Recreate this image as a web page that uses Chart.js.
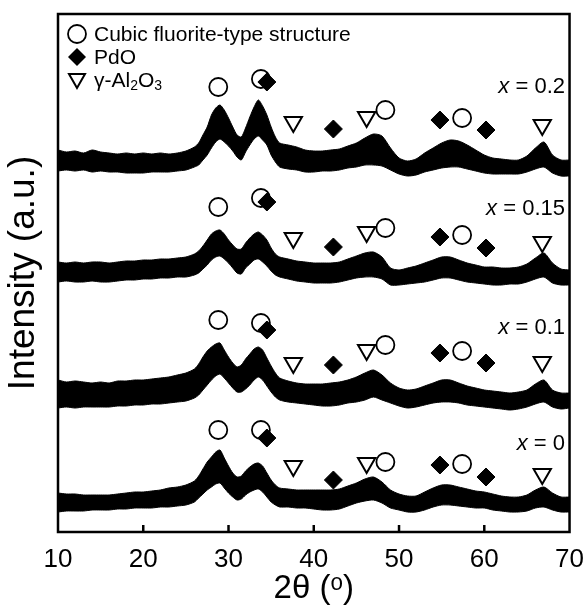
<!DOCTYPE html>
<html>
<head>
<meta charset="utf-8">
<script src="https://cdn.jsdelivr.net/npm/chart.js@4.4.1/dist/chart.umd.min.js"></script>
<style>
  html, body { margin: 0; padding: 0; background: #fff; }
  #wrap { width: 588px; height: 609px; }
</style>
</head>
<body>
<div id="wrap"><canvas id="xrdChart" width="588" height="609"></canvas></div>
<script>
// 2-theta grid (deg), finer around the main fluorite peaks
const twoTheta = [10,11,12,13,14,15,16,17,18,19,20,21,22,23,24,25,26,
  26.5,27,27.5,28,28.5,29,29.5,30,30.5,31,31.5,32,32.5,33,33.5,34,34.5,35,35.5,36,
  37,38,39,40,41,42,43,44,45,46,47,48,49,50,51,52,53,54,55,56,57,58,59,60,61,62,63,64,65,66,67,68,69,70];

// noisy traces read as upper / lower edge of the noise band (a.u., stacked offsets included)
const x02Top = [382,380,381,379,382,380,379,378,379,378,379,378,379,378,379,381,385,
  389,397,405,417,424,427,422,414,405,397,395,404,415,425,432,426,417,405,395,389,
  387,385,382,381,381,382,383,386,389,394,398,396,384,374,371,373,379,384,389,392,391,387,382,377,374,373,372,372,376,384,390,377,372,372];
const x02Low = [361,362,361,362,360,361,360,360,359,359,359,360,360,360,361,362,365,
  367,372,377,384,390,393,390,386,381,375,372,380,387,393,396,392,387,377,370,365,
  363,362,360,360,361,361,362,364,365,367,367,366,362,358,356,357,360,362,364,365,365,363,361,359,358,358,358,358,360,363,365,359,356,356];

const x015Top = [270,269,270,269,270,270,269,270,271,271,272,272,273,273,274,275,278,
  281,286,292,298,301,302,298,292,287,283,283,289,294,298,300,297,292,284,278,275,
  273,271,270,269,269,269,270,273,276,279,280,275,264,262,264,266,269,272,275,275,272,269,267,265,265,264,264,265,268,274,279,269,263,262];
const x015Low = [250,251,250,250,251,250,250,251,252,252,253,253,254,254,255,255,257,
  259,263,267,272,275,276,273,269,264,259,258,264,268,272,273,270,266,261,257,255,
  253,251,250,249,249,249,250,252,254,255,255,253,247,247,248,249,250,252,254,254,252,250,249,248,247,247,248,248,250,253,255,249,247,247];

const x01Top = [152,150,151,150,149,150,149,151,151,152,152,153,154,155,157,159,163,
  168,175,181,185,188,189,182,175,169,165,167,173,178,183,185,182,174,166,159,154,
  151,149,148,148,148,149,150,152,155,159,162,157,149,144,142,143,146,149,152,152,149,146,144,142,141,140,139,140,142,148,152,142,139,139];
const x01Low = [124,125,124,125,125,125,125,126,126,127,127,128,128,129,130,131,134,
  137,142,147,152,156,158,154,149,144,140,140,143,147,152,155,152,146,140,135,132,
  130,129,128,127,126,126,127,129,130,132,135,132,129,126,124,125,127,129,130,130,129,127,126,125,124,123,122,123,125,128,130,125,123,124];

const x0Top = [39,38,38,37,37,37,37,38,39,40,40,41,42,44,45,47,51,
  56,63,70,75,80,82,74,66,59,55,56,61,65,68,69,66,59,52,47,44,
  43,42,42,42,42,42,43,46,49,53,55,50,42,38,36,36,40,44,47,47,45,43,41,40,38,36,35,35,37,42,45,39,35,35];
const x0Low = [20,21,21,21,22,22,22,23,23,24,24,24,25,25,26,27,30,
  34,38,42,45,48,49,44,39,35,32,33,37,40,42,43,40,35,30,27,25,
  25,24,24,23,22,22,23,26,29,31,32,29,24,22,20,20,22,25,27,27,26,25,24,24,22,21,20,20,21,24,25,22,20,20];

// phase markers: 2-theta positions and marker heights per trace (x = 0.2, 0.15, 0.1, 0)
const fluoriteTheta = [28.8, 33.8, 48.4, 57.4];
const pdoTheta = [34.5, 42.3, 54.8, 60.2];
const aluminaTheta = [37.6, 46.2, 66.8];
const fluoriteY = [[445,453,422,414],[325,334,304,297],[212,209,187,181],[102,102,70,68]];
const pdoY = [[450,403,412,402],[330,285,295,284],[202,167,179,169],[94,52,67,55]];
const aluminaY = [[410,415,407],[294,300,290],[169,182,170],[66,69,58]];

const seriesNames = ['0.2', '0.15', '0.1', '0'];
const seriesLabelY = [445, 323, 204, 88];

const FONT = "'Liberation Sans', Arial, sans-serif";

function pts(xs, ys) { return xs.map((t, i) => ({ x: t, y: ys[i] })); }

const bands = [[x02Low, x02Top], [x015Low, x015Top], [x01Low, x01Top], [x0Low, x0Top]];
const datasets = [];
bands.forEach(([lo, hi]) => {
    datasets.push({
        data: pts(twoTheta, lo), borderColor: '#000', borderWidth: 1,
        pointRadius: 0, tension: 0.25, fill: false, order: 10
    });
    datasets.push({
        data: pts(twoTheta, hi), borderColor: '#000', borderWidth: 1,
        pointRadius: 0, tension: 0.25, fill: '-1', backgroundColor: '#000', order: 10
    });
});
fluoriteY.forEach(ys => datasets.push({
    data: pts(fluoriteTheta, ys), showLine: false, pointStyle: 'circle', pointRadius: 9,
    pointBackgroundColor: '#fff', pointBorderColor: '#000', pointBorderWidth: 1.8, order: 3
}));
pdoY.forEach(ys => datasets.push({
    data: pts(pdoTheta, ys), showLine: false, pointStyle: 'rectRot', pointRadius: 9,
    pointBackgroundColor: '#000', pointBorderColor: '#000', pointBorderWidth: 1, order: 2
}));
aluminaY.forEach(ys => datasets.push({
    data: pts(aluminaTheta, ys), showLine: false, pointStyle: 'triangle', rotation: 180, pointRadius: 10,
    pointBackgroundColor: '#fff', pointBorderColor: '#000', pointBorderWidth: 2, order: 1
}));

// frame, inward ticks, legend box text, series labels
const decor = {
    id: 'decor',
    afterDraw(chart) {
        const { ctx, chartArea: a, scales: { x, y } } = chart;
        ctx.save();
        ctx.strokeStyle = '#000';
        ctx.lineWidth = 2.5;
        ctx.strokeRect(a.left, a.top, a.right - a.left, a.bottom - a.top);
        x.ticks.forEach(t => {
            if (t.value <= x.min || t.value >= x.max) return;
            const px = x.getPixelForValue(t.value);
            ctx.beginPath();
            ctx.moveTo(px, a.bottom);
            ctx.lineTo(px, a.bottom - 7);
            ctx.stroke();
        });

        // series labels
        ctx.fillStyle = '#000';
        ctx.textBaseline = 'middle';
        seriesNames.forEach((n, i) => {
            const py = y.getPixelForValue(seriesLabelY[i]);
            ctx.font = 'italic 22px ' + FONT;
            const wx = ctx.measureText('x').width;
            ctx.font = '22px ' + FONT;
            const rest = ' = ' + n;
            const wr = ctx.measureText(rest).width;
            const x0 = 565 - wx - wr;
            ctx.font = 'italic 22px ' + FONT;
            ctx.fillText('x', x0, py);
            ctx.font = '22px ' + FONT;
            ctx.fillText(rest, x0 + wx, py);
        });

        // legend
        const lx = a.left + 19, tx = a.left + 36;
        ctx.lineWidth = 1.8;
        ctx.beginPath();
        ctx.arc(lx, 34, 9, 0, Math.PI * 2);
        ctx.fillStyle = '#fff'; ctx.fill(); ctx.stroke();
        ctx.fillStyle = '#000';
        ctx.beginPath();
        ctx.moveTo(lx, 57 - 9); ctx.lineTo(lx + 9, 57); ctx.lineTo(lx, 57 + 9); ctx.lineTo(lx - 9, 57);
        ctx.closePath(); ctx.fill();
        ctx.lineWidth = 2;
        ctx.beginPath();
        ctx.moveTo(lx - 8, 74); ctx.lineTo(lx + 8, 74); ctx.lineTo(lx, 88);
        ctx.closePath(); ctx.stroke();

        ctx.font = '21px ' + FONT;
        ctx.fillText('Cubic fluorite-type structure', tx, 35);
        ctx.fillText('PdO', tx, 58);
        let cx = tx;
        const seg = (s, size, dy) => {
            ctx.font = size + 'px ' + FONT;
            ctx.fillText(s, cx, 81 + dy);
            cx += ctx.measureText(s).width;
        };
        seg('\u03b3-Al', 21, 0); seg('2', 14, 5); seg('O', 21, 0); seg('3', 14, 5);
        ctx.restore();
    }
};

new Chart(document.getElementById('xrdChart'), {
    type: 'line',
    data: { datasets },
    options: {
        responsive: false,
        devicePixelRatio: 1,
        animation: false,
        events: [],
        layout: { padding: { top: 14, right: 16, left: 0, bottom: 0 } },
        plugins: { legend: { display: false }, tooltip: { enabled: false } },
        scales: {
            x: {
                type: 'linear', min: 10, max: 70,
                grid: { display: false }, border: { display: false },
                ticks: { stepSize: 10, color: '#000', padding: 4, maxRotation: 0, font: { family: FONT, size: 26 } },
                title: { display: true, text: '2\u03b8 (\u1d52)', color: '#000', padding: { top: 0, bottom: 0 }, font: { family: FONT, size: 33 } },
                afterFit(s) { s.height = 77; }
            },
            y: {
                min: 0, max: 518,
                grid: { display: false }, border: { display: false },
                ticks: { display: false },
                title: { display: true, text: 'Intensity (a.u.)', color: '#000', padding: { top: 2, bottom: 0 }, font: { family: FONT, size: 37 } },
                afterFit(s) { s.width = 58; }
            }
        }
    },
    plugins: [decor]
});
</script>
</body>
</html>
